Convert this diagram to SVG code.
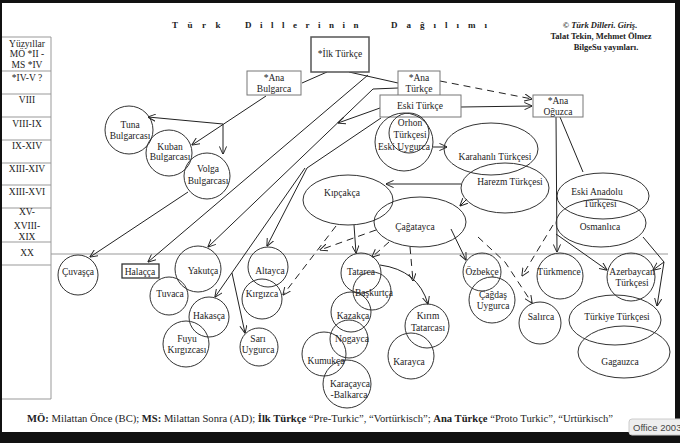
<svg xmlns="http://www.w3.org/2000/svg" width="680" height="443" viewBox="0 0 680 443">
<style>
.t{font-family:"Liberation Serif","Times New Roman",serif;font-size:9.5px;fill:#222;text-anchor:middle}
.b{font-weight:bold}
.n{fill:#fff;fill-opacity:0;stroke:#333;stroke-width:1}
.r{fill:#fff;stroke:#777;stroke-width:1}
.c{fill:none;stroke:#222;stroke-width:1}
.d{stroke-dasharray:7 5}
.g{stroke:#999;stroke-width:1;fill:none}
</style>
<defs>
<marker id="ah" viewBox="0 0 10 10" refX="9.5" refY="5" markerWidth="8" markerHeight="8" orient="auto" markerUnits="userSpaceOnUse">
<path d="M0,0.5 L10,5 L0,9.5" fill="none" stroke="#222" stroke-width="1.2"/>
</marker>
</defs>
<rect x="0" y="0" width="680" height="443" fill="#fff"/>
<g id="title">
<text class="t b" x="172" y="28" style="text-anchor:start;letter-spacing:9.5px;font-size:9px">Türk</text>
<text class="t b" x="245" y="28" style="text-anchor:start;letter-spacing:8.5px;font-size:9px">Dillerinin</text>
<text class="t b" x="391" y="28" style="text-anchor:start;letter-spacing:9px;font-size:9px">Dağılımı</text>
</g>
<g id="credit">
<text class="t b" x="600" y="28" style="font-size:8.5px">© <tspan font-style="italic">Türk Dilleri. Giriş.</tspan></text>
<text class="t b" x="601" y="39" style="font-size:8.5px">Talat Tekin, Mehmet Ölmez</text>
<text class="t b" x="606" y="50" style="font-size:8.5px">BilgeSu yayınları.</text>
</g>
<g id="timeline">
<path class="g" d="M2,37 H51 V399 H2 M2,71 H51 M2,94 H51 M2,117 H51 M2,140 H51 M2,163 H51 M2,185 H51 M2,208 H51 M2,242 H51 M2,265 H51"/>
<line class="g" x1="51" y1="254" x2="668" y2="254" stroke="#aaa"/>
<text class="t" x="27" y="47">Yüzyıllar</text>
<text class="t" x="27" y="57">MÖ *II -</text>
<text class="t" x="27" y="68">MS  *IV</text>
<text class="t" x="27" y="81">*IV-V ?</text>
<text class="t" x="27" y="103">VIII</text>
<text class="t" x="27" y="127">VIII-IX</text>
<text class="t" x="27" y="149">IX-XIV</text>
<text class="t" x="27" y="172">XIII-XIV</text>
<text class="t" x="27" y="195">XIII-XVI</text>
<text class="t" x="27" y="215">XV-</text>
<text class="t" x="27" y="229">XVIII-</text>
<text class="t" x="27" y="240">XIX</text>
<text class="t" x="27" y="256">XX</text>
</g>
<g id="connectors">
<line class="c" x1="327" y1="72" x2="302" y2="83"/>
<line class="c" x1="349" y1="72" x2="398" y2="83"/>
<line class="c d" x1="440" y1="81" x2="532" y2="99" marker-end="url(#ah)"/>
<line class="c" x1="461" y1="107" x2="532" y2="106" marker-end="url(#ah)"/>
<line class="c" x1="266" y1="96" x2="192" y2="145" marker-end="url(#ah)"/>
<line class="c" x1="223" y1="124" x2="148" y2="117" marker-end="url(#ah)"/>
<line class="c" x1="223" y1="124" x2="223" y2="154" marker-end="url(#ah)"/>
<line class="c" x1="188" y1="192" x2="90" y2="257" marker-end="url(#ah)"/>
<line class="c" x1="368" y1="75" x2="148" y2="262" marker-end="url(#ah)"/>
<path class="c" d="M398,88 L373,89 L208,247" marker-end="url(#ah)"/>
<line class="c" x1="381" y1="118" x2="307" y2="168"/>
<line class="c" x1="307" y1="168" x2="267" y2="246" marker-end="url(#ah)"/>
<line class="c" x1="305" y1="168" x2="215" y2="297" marker-end="url(#ah)"/>
<line class="c" x1="380" y1="108" x2="338" y2="123" marker-end="url(#ah)"/>
<line class="c" x1="232" y1="273" x2="245" y2="333" marker-end="url(#ah)"/>
<line class="c" x1="433" y1="147" x2="447" y2="147" marker-end="url(#ah)"/>
<line class="c" x1="461" y1="184" x2="386" y2="184" marker-end="url(#ah)"/>
<line class="c" x1="467" y1="199" x2="460" y2="206" marker-end="url(#ah)"/>
<line class="c" x1="354" y1="225" x2="356" y2="253" marker-end="url(#ah)"/>
<line class="c d" x1="336" y1="226" x2="283" y2="295" marker-end="url(#ah)"/>
<line class="c d" x1="376" y1="230" x2="320" y2="250" marker-end="url(#ah)"/>
<line class="c d" x1="389" y1="242" x2="372" y2="257" marker-end="url(#ah)"/>
<line class="c d" x1="410" y1="247" x2="413" y2="281" marker-end="url(#ah)"/>
<path class="c" d="M380,265 Q418,270 428,304" marker-end="url(#ah)"/>
<line class="c" x1="451" y1="229" x2="466" y2="260" marker-end="url(#ah)"/>
<path class="c d" d="M478,237 L505,262 L532,303" marker-end="url(#ah)"/>
<line class="c" x1="556" y1="117" x2="557" y2="252" marker-end="url(#ah)"/>
<line class="c" x1="560" y1="117" x2="583" y2="172"/>
<line class="c d" x1="553" y1="225" x2="522" y2="276" marker-end="url(#ah)"/>
<line class="c" x1="556" y1="234" x2="607" y2="270" marker-end="url(#ah)"/>
<line class="c" x1="643" y1="237" x2="664" y2="262"/>
<line class="c" x1="664" y1="262" x2="653" y2="270" marker-end="url(#ah)"/>
<line class="c" x1="664" y1="262" x2="657" y2="306" marker-end="url(#ah)"/>
</g>
<g id="ilk-turkce"><rect x="311" y="37" width="58" height="35" fill="#fff" stroke="#555" stroke-width="1.5"/><text class="t" x="340" y="57">*İlk Türkçe</text></g>
<g id="ana-bulgarca"><rect class="r" x="247" y="71" width="54" height="24"/><text class="t" x="274" y="81">*Ana</text><text class="t" x="274" y="92">Bulgarca</text></g>
<g id="ana-turkce"><rect class="r" x="398" y="71" width="42" height="25"/><text class="t" x="419" y="81">*Ana</text><text class="t" x="419" y="92">Türkçe</text></g>
<g id="eski-turkce"><rect class="r" x="380" y="95" width="81" height="22"/><text class="t" x="420" y="109">Eski Türkçe</text></g>
<g id="ana-oguzca"><rect class="r" x="533" y="95" width="50" height="22"/><text class="t" x="558" y="104">*Ana</text><text class="t" x="558" y="115">Oğuzca</text></g>
<g id="orhon"><circle class="n" cx="404" cy="142" r="29"/><ellipse class="n" cx="409" cy="133" rx="20" ry="20"/><text class="t" x="410" y="126">Orhon</text><text class="t" x="410" y="138">Türkçesi</text><text class="t" x="404" y="150">Eski Uygurca</text></g>
<g id="karahanli"><ellipse class="n" cx="491" cy="149" rx="47" ry="26"/><text class="t" x="495" y="160">Karahanlı Türkçesi</text></g>
<g id="harezm"><ellipse class="n" cx="505" cy="188" rx="44" ry="25"/><text class="t" x="510" y="185">Harezm Türkçesi</text></g>
<g id="kipcakca"><ellipse class="n" cx="348" cy="200" rx="45" ry="25"/><text class="t" x="342" y="196">Kıpçakça</text></g>
<g id="cagatayca"><ellipse class="n" cx="420" cy="222" rx="46" ry="25"/><text class="t" x="415" y="230">Çağatayca</text></g>
<g id="eski-anadolu"><ellipse class="n" cx="603" cy="196" rx="46" ry="23"/><text class="t" x="597" y="195">Eski Anadolu</text><text class="t" x="600" y="207">Türkçesi</text></g>
<g id="osmanlica"><ellipse class="n" cx="601" cy="223" rx="45" ry="24"/><text class="t" x="600" y="230">Osmanlıca</text></g>
<g id="tuna"><circle class="n" cx="129" cy="130" r="24"/><text class="t" x="130" y="128">Tuna</text><text class="t" x="130" y="139">Bulgarcası</text></g>
<g id="kuban"><circle class="n" cx="169" cy="153" r="23"/><text class="t" x="170" y="150">Kuban</text><text class="t" x="170" y="160">Bulgarcası</text></g>
<g id="volga"><circle class="n" cx="207" cy="176" r="23"/><text class="t" x="208" y="172">Volga</text><text class="t" x="208" y="184">Bulgarcası</text></g>
<g id="cuvasca"><circle class="n" cx="78" cy="275" r="20"/><text class="t" x="78" y="275">Çuvaşça</text></g>
<g id="halacca"><rect x="122" y="264" width="37" height="14" fill="#fff" stroke="#333" stroke-width="1.3"/><text class="t" x="140" y="275">Halaçça</text></g>
<g id="yakutca"><circle class="n" cx="198" cy="269" r="23"/><text class="t" x="203" y="274">Yakutça</text></g>
<g id="tuvaca"><circle class="n" cx="169" cy="296" r="19"/><text class="t" x="170" y="297">Tuvaca</text></g>
<g id="hakasca"><circle class="n" cx="209" cy="317" r="20"/><text class="t" x="209" y="319">Hakasça</text></g>
<g id="fuyu"><circle class="n" cx="186" cy="344" r="23"/><text class="t" x="187" y="342">Fuyu</text><text class="t" x="187" y="353">Kırgızcası</text></g>
<g id="altayca"><circle class="n" cx="268" cy="267" r="20"/><text class="t" x="270" y="274">Altayca</text></g>
<g id="kirgizca"><circle class="n" cx="262" cy="299" r="20"/><text class="t" x="262" y="297">Kırgızca</text></g>
<g id="sari-uygurca"><circle class="n" cx="259" cy="347" r="19"/><text class="t" x="258" y="342">Sarı</text><text class="t" x="258" y="353">Uygurca</text></g>
<g id="tatarca"><circle class="n" cx="361" cy="273" r="20"/><text class="t" x="361" y="275">Tatarca</text></g>
<g id="baskurtca"><circle class="n" cx="372" cy="291" r="19"/><text class="t" x="374" y="296">Başkurtça</text></g>
<g id="kazakca"><circle class="n" cx="351" cy="312" r="20"/><text class="t" x="353" y="319">Kazakça</text></g>
<g id="nogayca"><circle class="n" cx="349" cy="339" r="19"/><text class="t" x="352" y="342">Nogayca</text></g>
<g id="kumukca"><circle class="n" cx="324" cy="354" r="22"/><text class="t" x="326" y="364">Kumukça</text></g>
<g id="karacayca"><circle class="n" cx="347" cy="384" r="24"/><text class="t" x="350" y="387">Karaçayca</text><text class="t" x="349" y="398">-Balkarca</text></g>
<g id="kirim"><circle class="n" cx="427" cy="326" r="22"/><text class="t" x="428" y="319">Kırım</text><text class="t" x="428" y="331">Tatarcası</text></g>
<g id="karayca"><circle class="n" cx="411" cy="356" r="23"/><text class="t" x="409" y="365">Karayca</text></g>
<g id="ozbekce"><circle class="n" cx="482" cy="272" r="19"/><text class="t" x="482" y="275">Özbekçe</text></g>
<g id="cagdas"><circle class="n" cx="492" cy="300" r="23"/><text class="t" x="493" y="298">Çağdaş</text><text class="t" x="493" y="309">Uygurca</text></g>
<g id="salirca"><circle class="n" cx="540" cy="323" r="21"/><text class="t" x="541" y="320">Salırca</text></g>
<g id="turkmence"><circle class="n" cx="560" cy="276" r="23"/><text class="t" x="559" y="275">Türkmence</text></g>
<g id="azerbaycan"><circle class="n" cx="631" cy="277" r="24"/><text class="t" x="632" y="275">Azerbaycan</text><text class="t" x="632" y="286">Türkçesi</text></g>
<g id="turkiye"><ellipse class="n" cx="615" cy="320" rx="46" ry="25"/><text class="t" x="617" y="320">Türkiye Türkçesi</text></g>
<g id="gagauzca"><ellipse class="n" cx="624" cy="352" rx="46" ry="26"/><text class="t" x="620" y="365">Gagauzca</text></g>
<g id="caption">
<text class="t" x="320" y="422" style="font-size:10.6px"><tspan class="b">MÖ:</tspan> Milattan Önce (BC); <tspan class="b">MS:</tspan> Milattan Sonra (AD); <tspan class="b">İlk Türkçe</tspan> “Pre-Turkic”, “Vortürkisch”; <tspan class="b">Ana Türkçe</tspan> “Proto Turkic”, “Urtürkisch”</text>
</g>
<g id="frame">
<path d="M0,0 H680 V443 H0 Z M2,3 V432 H675 V3 Z" fill="#111" fill-rule="evenodd"/>
<rect x="629" y="419" width="60" height="16" rx="3" fill="#eee" stroke="#ccc"/>
<text x="633" y="431" style="font-family:'Liberation Sans',Arial,sans-serif;font-size:9.5px;fill:#444">Office 2003</text>
</g>
</svg>
